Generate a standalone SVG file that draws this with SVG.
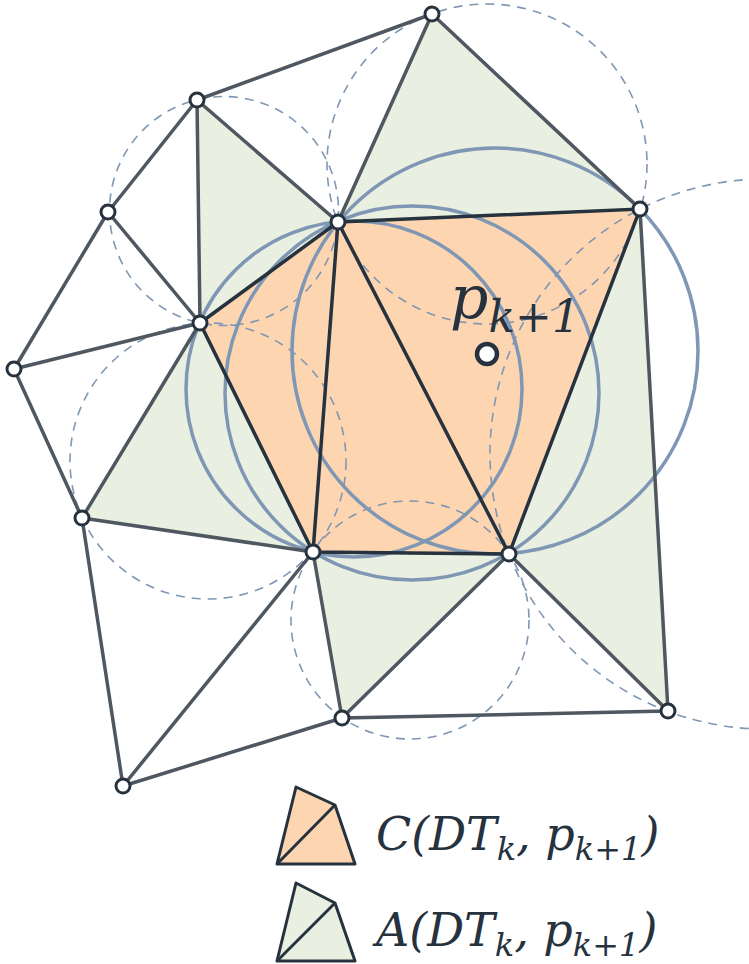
<svg xmlns="http://www.w3.org/2000/svg" width="749" height="964" viewBox="0 0 749 964">
<style>
.e{stroke:#4f5760;stroke-width:3.5;fill:none;stroke-linecap:round}
.o{fill:#fdd6b1}
.g{fill:#e9f0e1}
.sc{fill:none;stroke:#7f97b4;stroke-width:3.5}
.dc{fill:none;stroke:#7f97b4;stroke-width:1.6;stroke-dasharray:9 7}
.v{fill:#fff;stroke:#26323e;stroke-width:3}
.t{font-family:"DejaVu Serif","Liberation Serif",serif;font-style:italic;fill:#26323e}
</style>
<rect width="749" height="964" fill="#fff"/>
<g id="regions">
<polygon class="o" points="200,323 338,222 640,209 509,554 313,552"/>
<polygon class="g" points="432,14 338,222 640,209"/>
<polygon class="g" points="197,100 338,222 200,323"/>
<polygon class="g" points="200,323 82,518 313,552"/>
<polygon class="g" points="313,552 509,554 342,718"/>
<polygon class="g" points="640,209 509,554 668,711"/>
</g>
<g id="circles">
<circle class="dc" cx="487" cy="164" r="160"/>
<circle class="dc" cx="224" cy="211" r="114.5"/>
<circle class="dc" cx="208" cy="461" r="138"/>
<circle class="dc" cx="410" cy="620" r="119"/>
<circle class="dc" cx="765" cy="454" r="275"/>
<circle class="sc" cx="354" cy="389" r="168"/>
<circle class="sc" cx="412" cy="393" r="187"/>
<circle class="sc" cx="495" cy="351" r="203"/>
</g>
<g id="connectors">
<path class="e" d="M432,14L197,100 M432,14L338,222 M432,14L640,209 M197,100L108,212 M197,100L338,222 M197,100L200,323 M108,212L200,323 M108,212L14,369 M14,369L200,323 M14,369L82,518 M82,518L200,323 M82,518L313,552 M82,518L123,786 M123,786L313,552 M123,786L342,718 M313,552L342,718 M342,718L509,554 M342,718L668,711 M509,554L668,711 M640,209L668,711"/>
<path class="e" style="stroke:#26323e" d="M200,323L338,222L640,209L509,554L313,552Z M338,222L313,552 M338,222L509,554"/>
</g>
<g id="vertices">
<circle class="v" cx="432" cy="14" r="7"/>
<circle class="v" cx="197" cy="100" r="7"/>
<circle class="v" cx="108" cy="212" r="7"/>
<circle class="v" cx="14" cy="369" r="7"/>
<circle class="v" cx="200" cy="323" r="7"/>
<circle class="v" cx="338" cy="222" r="7"/>
<circle class="v" cx="640" cy="209" r="7"/>
<circle class="v" cx="82" cy="518" r="7"/>
<circle class="v" cx="313" cy="552" r="7"/>
<circle class="v" cx="509" cy="554" r="7"/>
<circle class="v" cx="342" cy="718" r="7"/>
<circle class="v" cx="668" cy="711" r="7"/>
<circle class="v" cx="123" cy="786" r="7"/>
</g>
<g id="point">
<circle cx="487" cy="354" r="10" fill="#fff" stroke="#26323e" stroke-width="4.5"/>
<text class="t" x="450" y="318" font-size="60">p<tspan font-size="44" dy="14">k+1</tspan></text>
</g>
<g id="legend">
<polygon class="o" points="296,787 335,805 355,864 277,864" stroke="#26323e" stroke-width="3" stroke-linejoin="round"/>
<path d="M277,864L335,805" stroke="#26323e" stroke-width="3"/>
<polygon class="g" points="296,883 335,903 355,961 277,961" stroke="#26323e" stroke-width="3" stroke-linejoin="round"/>
<path d="M277,961L335,903" stroke="#26323e" stroke-width="3"/>
<text class="t" x="376" y="850" font-size="46">C(DT<tspan font-size="32" dy="10">k</tspan><tspan dy="-10">, p</tspan><tspan font-size="32" dy="10">k+1</tspan><tspan dy="-10">)</tspan></text>
<text class="t" x="376" y="946" font-size="46">A(DT<tspan font-size="32" dy="10">k</tspan><tspan dy="-10">, p</tspan><tspan font-size="32" dy="10">k+1</tspan><tspan dy="-10">)</tspan></text>
</g>
</svg>
